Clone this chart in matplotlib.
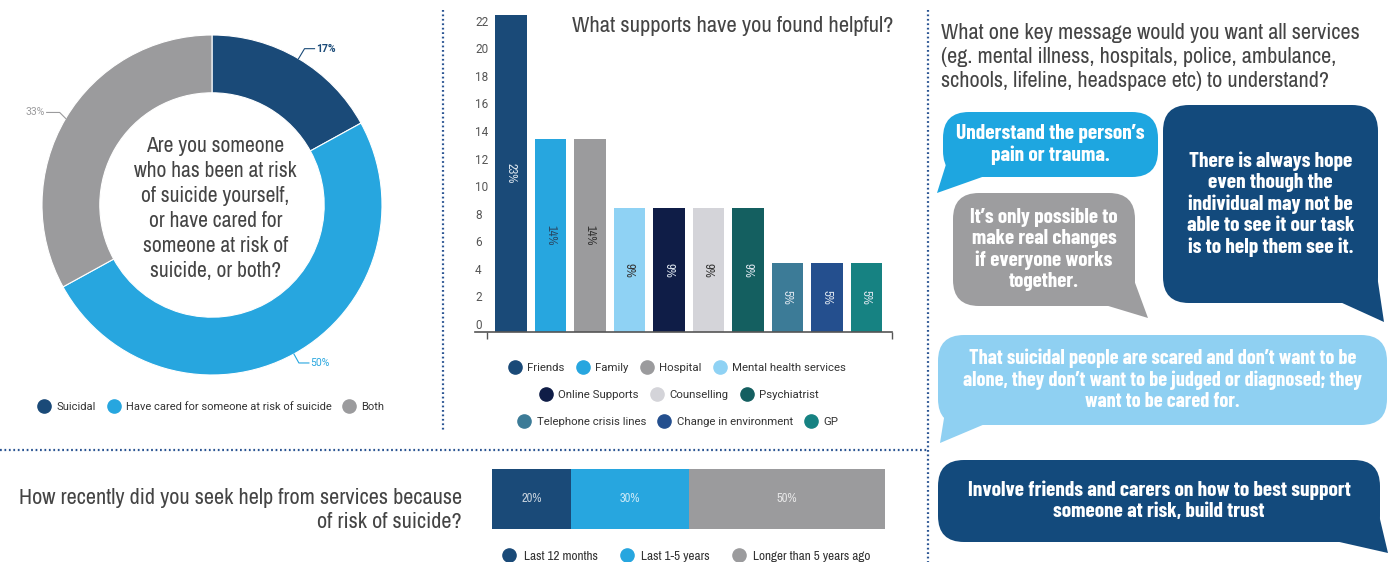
import matplotlib
matplotlib.use("Agg")
import numpy as np
import matplotlib.pyplot as plt
from matplotlib.lines import Line2D
from matplotlib.patches import FancyBboxPatch, Polygon

HEAD = ["Archivo Narrow", "DejaVu Sans"]
BUBBLE = ["Barlow Condensed", "DejaVu Sans"]
plt.rcParams["font.family"] = ["Roboto", "DejaVu Sans"]

# ---- data ----
pie_labels = ["Suicidal", "Have cared for someone at risk of suicide", "Both"]
pie_values = [17, 50, 33]
pie_colors = ["#1a4a78", "#27a6df", "#9b9b9d"]

support_labels = ["Friends", "Family", "Hospital", "Mental health services",
                  "Online Supports", "Counselling", "Psychiatrist",
                  "Telephone crisis lines", "Change in environment", "GP"]
support_values = [23, 14, 14, 9, 9, 9, 9, 5, 5, 5]
support_colors = ["#1a4a78", "#27a6df", "#9b9b9d", "#8fd2f4", "#0f1d47",
                  "#d4d4d9", "#145f60", "#3c7b97", "#244f8e", "#168282"]
support_text = ["#dde6ef", "#2a4a66", "#333333", "#333333", "#dde6ef",
                "#333333", "#dde6ef", "#dde6ef", "#dde6ef", "#dde6ef"]
yticks = list(range(0, 23, 2))

recent_labels = ["Last 12 months", "Last 1-5 years", "Longer than 5 years ago"]
recent_values = [20, 30, 50]
recent_colors = ["#1a4a78", "#27a6df", "#9b9b9d"]

W, H = 1388, 562
fig = plt.figure(figsize=(W / 100, H / 100), dpi=100)
fig.patch.set_facecolor("white")


def px_axes(left, top, right, bottom, **kw):
    return fig.add_axes([left / W, 1 - bottom / H, (right - left) / W, (bottom - top) / H], **kw)


def circle(c):
    return Line2D([], [], marker="o", linestyle="none", markersize=9.5,
                  markerfacecolor=c, markeredgecolor=c)


def legend_row(colors, labels, cx, cy, size=8.2, family=None, spacing=1.0):
    prop = {"size": size}
    if family:
        prop["family"] = family
    fig.legend([circle(c) for c in colors], labels, ncol=len(labels), loc="center",
               bbox_to_anchor=(cx / W, 1 - cy / H), frameon=False, prop=prop,
               handletextpad=0.5, columnspacing=spacing, handlelength=1.2,
               labelcolor="#333333", borderaxespad=0, borderpad=0)


# ---- donut ----
ax_pie = px_axes(42, 35, 382, 375)
ax_pie.pie(pie_values, colors=pie_colors, startangle=90, counterclock=False,
           wedgeprops=dict(width=0.34, edgecolor="white", linewidth=0.8))
ax_pie.set_xlim(-1, 1)
ax_pie.set_ylim(-1, 1)
ax_pie.set_aspect("equal")
ax_pie.text(0.02, -0.02, "Are you someone\nwho has been at risk\nof suicide yourself,\n"
            "or have cared for\nsomeone at risk of\nsuicide, or both?",
            ha="center", va="center", fontsize=15.5, color="#444444",
            family=HEAD, linespacing=1.32)

# leader lines and percentage labels
R = 170.0
cum = 0
elbows = [((6, -10), 10, 1), ((5, 9), 10, 1), ((-6, -6), 13, -1)]
for val, col, ((dx, dy), run, side) in zip(pie_values, pie_colors, elbows):
    mid = np.deg2rad(90 - (cum + val / 2) * 3.6)
    cum += val
    x0, y0 = np.cos(mid), np.sin(mid)
    x1, y1 = x0 + dx / R, y0 - dy / R
    x2 = x1 + side * run / R
    ax_pie.plot([x0, x1, x2], [y0, y1, y1], color=col, lw=0.8, clip_on=False)
    ax_pie.text(x2 + side * 1.5 / R, y1, f"{val}%", color=col, fontsize=7.5,
                ha="left" if side > 0 else "right", va="center",
                fontweight="bold" if col == pie_colors[0] else "normal")

legend_row(pie_colors, pie_labels, 211, 407, size=8.0)

# ---- supports bar chart ----
ax_bar = px_axes(475, 15, 892, 332)
x = np.arange(len(support_values))
ax_bar.bar(x, support_values, width=0.8, color=support_colors)
for xi, v, tc in zip(x, support_values, support_text):
    ax_bar.text(xi, v / 2, f"{v}%", rotation=-90, ha="center", va="center",
                fontsize=9, color=tc, family=HEAD)
ax_bar.set_xlim(-0.91, 9.65)
ax_bar.set_ylim(0, 23)
ax_bar.set_yticks(yticks)
ax_bar.tick_params(axis="y", length=0, pad=0, labelsize=8.5, labelcolor="#555555")
for lbl in ax_bar.get_yticklabels():
    lbl.set_ha("left")
    lbl.set_va("bottom")
ax_bar.set_xticks([-0.61, 9.65])
ax_bar.set_xticklabels([])
ax_bar.tick_params(axis="x", length=5, color="#555555", width=1)
for s in ["top", "right", "left"]:
    ax_bar.spines[s].set_visible(False)
ax_bar.spines["bottom"].set_color("#555555")
ax_bar.spines["bottom"].set_linewidth(1.2)
ax_bar.patch.set_alpha(0)
fig.text(893 / W, 1 - 26 / H, "What supports have you found helpful?", ha="right",
         va="center", fontsize=16.2, color="#444444", family=HEAD)

legend_row(support_colors[0:4], support_labels[0:4], 677, 368)
legend_row(support_colors[4:7], support_labels[4:7], 679, 395)
legend_row(support_colors[7:10], support_labels[7:10], 678, 422)

# ---- how recently ----
fig.text(462 / W, 1 - 510 / H, "How recently did you seek help from services because\n"
         "of risk of suicide?", ha="right", va="center", fontsize=16, color="#444444",
         family=HEAD, linespacing=1.23)
ax_rec = px_axes(492, 469, 885, 529)
left = 0
for v, c in zip(recent_values, recent_colors):
    ax_rec.barh(0, v, left=left, height=1, color=c)
    ax_rec.text(left + v / 2, 0, f"{v}%", ha="center", va="center", fontsize=9,
                color="white", alpha=0.75, family=HEAD)
    left += v
ax_rec.set_xlim(0, 100)
ax_rec.set_ylim(-0.5, 0.5)
ax_rec.axis("off")
legend_row(recent_colors, recent_labels, 686, 556, size=9.5, family=HEAD, spacing=1.6)

# ---- overlay: separators and speech bubbles ----
ov = fig.add_axes([0, 0, 1, 1], zorder=-1)
ov.set_xlim(0, W)
ov.set_ylim(H, 0)
ov.axis("off")
dot = dict(color="#2b5593", lw=1.6, linestyle=(0, (0.8, 1.2)))
ov.plot([443, 443], [10, 432], **dot)
ov.plot([928, 928], [10, 562], **dot)
ov.plot([0, 928], [450, 450], **dot)

ov.text(941, 57, "What one key message would you want all services\n"
        "(eg. mental illness, hospitals, police, ambulance,\n"
        "schools, lifeline, headspace etc) to understand?",
        ha="left", va="center", fontsize=16, color="#444444", family=HEAD,
        linespacing=1.23)

bubbles = [
    ((943, 112, 1158, 177), [(948, 158), (985, 176), (937, 193)], "#1ea6e0",
     "Understand the person\u2019s\npain or trauma.", 15.4),
    ((953, 193, 1135, 306), [(1105, 305), (1134, 280), (1148, 318)], "#9d9d9f",
     "It\u2019s only possible to\nmake real changes\nif everyone works\ntogether.", 15.2),
    ((1163, 105, 1378, 303), [(1340, 302), (1377, 275), (1384, 322)], "#134a7c",
     "There is always hope\neven though the\nindividual may not be\n"
     "able to see it our task\nis to help them see it.", 15.4),
    ((938, 335, 1387, 425), [(945, 412), (985, 424), (940, 443)], "#8fd0f2",
     "That suicidal people are scared and don\u2019t want to be\n"
     "alone, they don\u2019t want to be judged or diagnosed; they\nwant to be cared for.", 14.7),
    ((938, 460, 1380, 542), [(1335, 541), (1379, 515), (1388, 553)], "#134a7c",
     "Involve friends and carers on how to best support\nsomeone at risk, build trust", 15.3),
]
for (x0, y0, x1, y1), tail, col, txt, fs in bubbles:
    ov.add_patch(FancyBboxPatch((x0, y0), x1 - x0, y1 - y0,
                                boxstyle="round,pad=0,rounding_size=26",
                                facecolor=col, edgecolor="none"))
    ov.add_patch(Polygon(tail, closed=True, facecolor=col, edgecolor="none"))
    ov.text((x0 + x1) / 2, (y0 + y1) / 2, txt, ha="center", va="center",
            color="white", fontsize=fs, fontweight="bold", family=BUBBLE,
            linespacing=1.15)

fig.savefig("out.png", dpi=100, facecolor="white")
